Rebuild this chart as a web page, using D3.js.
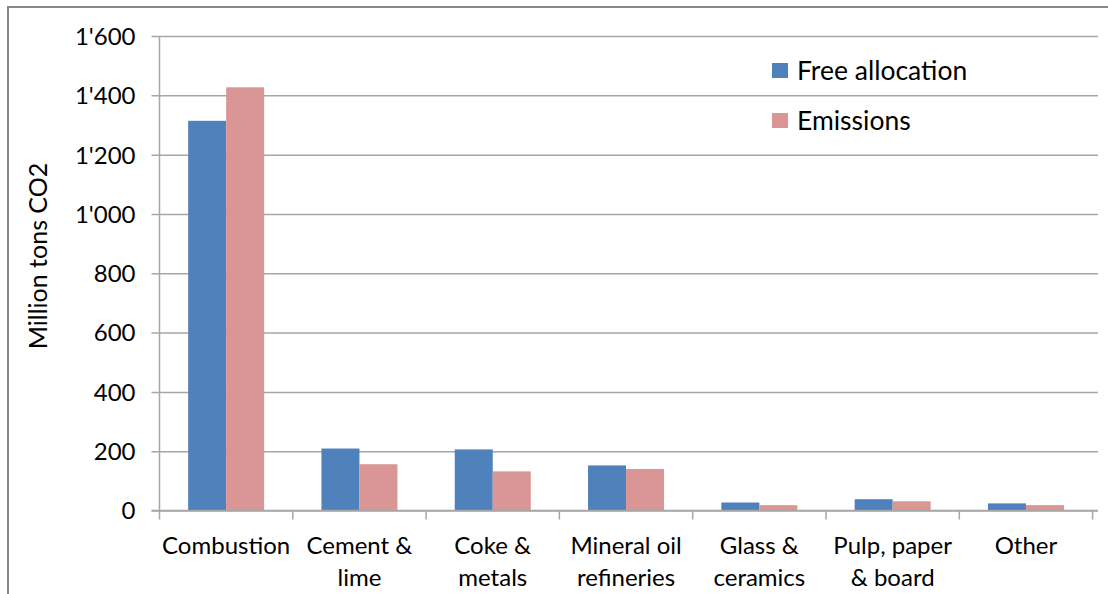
<!DOCTYPE html>
<html>
<head>
<meta charset="utf-8">
<script src="https://cdn.jsdelivr.net/npm/d3@7"></script>
<style>
  html, body { margin: 0; padding: 0; background: #fff; }
  svg { display: block; }
  text { font-family: Lato, "Open Sans", sans-serif; fill: #000; }
</style>
</head>
<body>
<svg id="chart" width="1108" height="594"></svg>
<script>
// Categories (two-line labels) and series values, million tons CO2
const categories = [
  ["Combustion"],
  ["Cement &", "lime"],
  ["Coke &", "metals"],
  ["Mineral oil", "refineries"],
  ["Glass &", "ceramics"],
  ["Pulp, paper", "& board"],
  ["Other"]
];
const seriesNames = ["Free allocation", "Emissions"];
const freeAllocation = [1314, 209, 206, 152, 27, 38, 24];
const emissions = [1427, 156, 132, 140, 18, 31, 18];
const yTicks = [0, 200, 400, 600, 800, 1000, 1200, 1400, 1600];
const colors = ["#4F81BD", "#D99694"];

const svg = d3.select("#chart");
const plot = { left: 159.5, right: 1098, top: 36, bottom: 510.5 };

// Outer chart frame
svg.append("rect")
  .attr("x", 8).attr("y", 7)
  .attr("width", 1108).attr("height", 600)
  .attr("fill", "none").attr("stroke", "#898989").attr("stroke-width", 2);

const catKeys = categories.map(c => c.join(" "));
const x = d3.scaleBand().domain(catKeys).range([plot.left, plot.left + 133.3 * 7])
  .paddingInner(0).paddingOuter(0);
// two touching bars per category, centred, with wide gaps between groups
const inner = d3.scaleBand().domain(seriesNames)
  .range([0, x.bandwidth()]).paddingInner(0).paddingOuter(0.754);
const y = d3.scaleLinear().domain([0, 1600]).range([plot.bottom, plot.top]);

// Horizontal gridlines with left tick marks
const yAxis = d3.axisLeft(y).tickValues(yTicks)
  .tickSize(-(plot.right - plot.left)).tickPadding(0)
  .tickFormat(d => d3.format(",")(d).replace(/,/g, "'"));
const gy = svg.append("g").attr("transform", `translate(${plot.left},0)`).call(yAxis);
gy.select(".domain").remove();
gy.selectAll(".tick line")
  .attr("x1", -8).attr("stroke", "#A6A6A6").attr("stroke-width", 1.5);
gy.selectAll(".tick text")
  .attr("x", -24).attr("dy", "0.35em")
  .style("font-size", "24px").style("text-anchor", "end");

// Vertical axis line
svg.append("line")
  .attr("x1", plot.left).attr("x2", plot.left)
  .attr("y1", plot.top).attr("y2", plot.bottom)
  .attr("stroke", "#A6A6A6").attr("stroke-width", 1.5);

// Bars
const rows = catKeys.map((k, i) => ({ key: k, vals: [freeAllocation[i], emissions[i]] }));
const groups = svg.append("g").selectAll("g").data(rows).join("g")
  .attr("transform", d => `translate(${x(d.key)},0)`);
groups.selectAll("rect")
  .data(d => d.vals.map((v, j) => ({ name: seriesNames[j], v, j })))
  .join("rect")
  .attr("x", d => inner(d.name))
  .attr("width", inner.bandwidth())
  .attr("y", d => y(d.v))
  .attr("height", d => y(0) - y(d.v))
  .attr("fill", d => colors[d.j]);

// Category axis
const xAxis = d3.axisBottom(x).tickSize(0).tickFormat("");
const gx = svg.append("g").attr("transform", `translate(0,${plot.bottom})`).call(xAxis);
gx.select(".domain").attr("stroke", "#A6A6A6").attr("stroke-width", 1.5)
  .attr("d", `M${plot.left - 8},0H${plot.right}`);
const boundaries = catKeys.map(k => x(k)).concat([x(catKeys[catKeys.length - 1]) + x.bandwidth()]);
svg.append("g").selectAll("line").data(boundaries).join("line")
  .attr("x1", d => d).attr("x2", d => d)
  .attr("y1", plot.bottom).attr("y2", plot.bottom + 9)
  .attr("stroke", "#A6A6A6").attr("stroke-width", 1.5);

// Category labels
const lbl = svg.append("g").selectAll("text").data(categories).join("text")
  .attr("x", (d, i) => x(catKeys[i]) + x.bandwidth() / 2)
  .attr("y", 554)
  .style("font-size", "24px").style("text-anchor", "middle");
lbl.selectAll("tspan").data(d => d).join("tspan")
  .attr("x", function () { return this.parentNode.getAttribute("x"); })
  .attr("dy", (d, i) => i === 0 ? 0 : 32)
  .text(d => d);

// Y-axis title
svg.append("text")
  .attr("transform", "translate(38,256) rotate(-90)")
  .attr("dy", "0.35em")
  .style("font-size", "25px").style("text-anchor", "middle")
  .text("Million tons CO2");

// Legend
const leg = svg.append("g").selectAll("g").data(seriesNames).join("g")
  .attr("transform", (d, i) => `translate(772,${63 + i * 50})`);
leg.append("rect").attr("width", 16).attr("height", 15)
  .attr("fill", (d, i) => colors[i]);
leg.append("text").attr("x", 25).attr("y", 7.5).attr("dy", "0.35em")
  .style("font-size", "26.5px").text(d => d);
</script>
</body>
</html>
